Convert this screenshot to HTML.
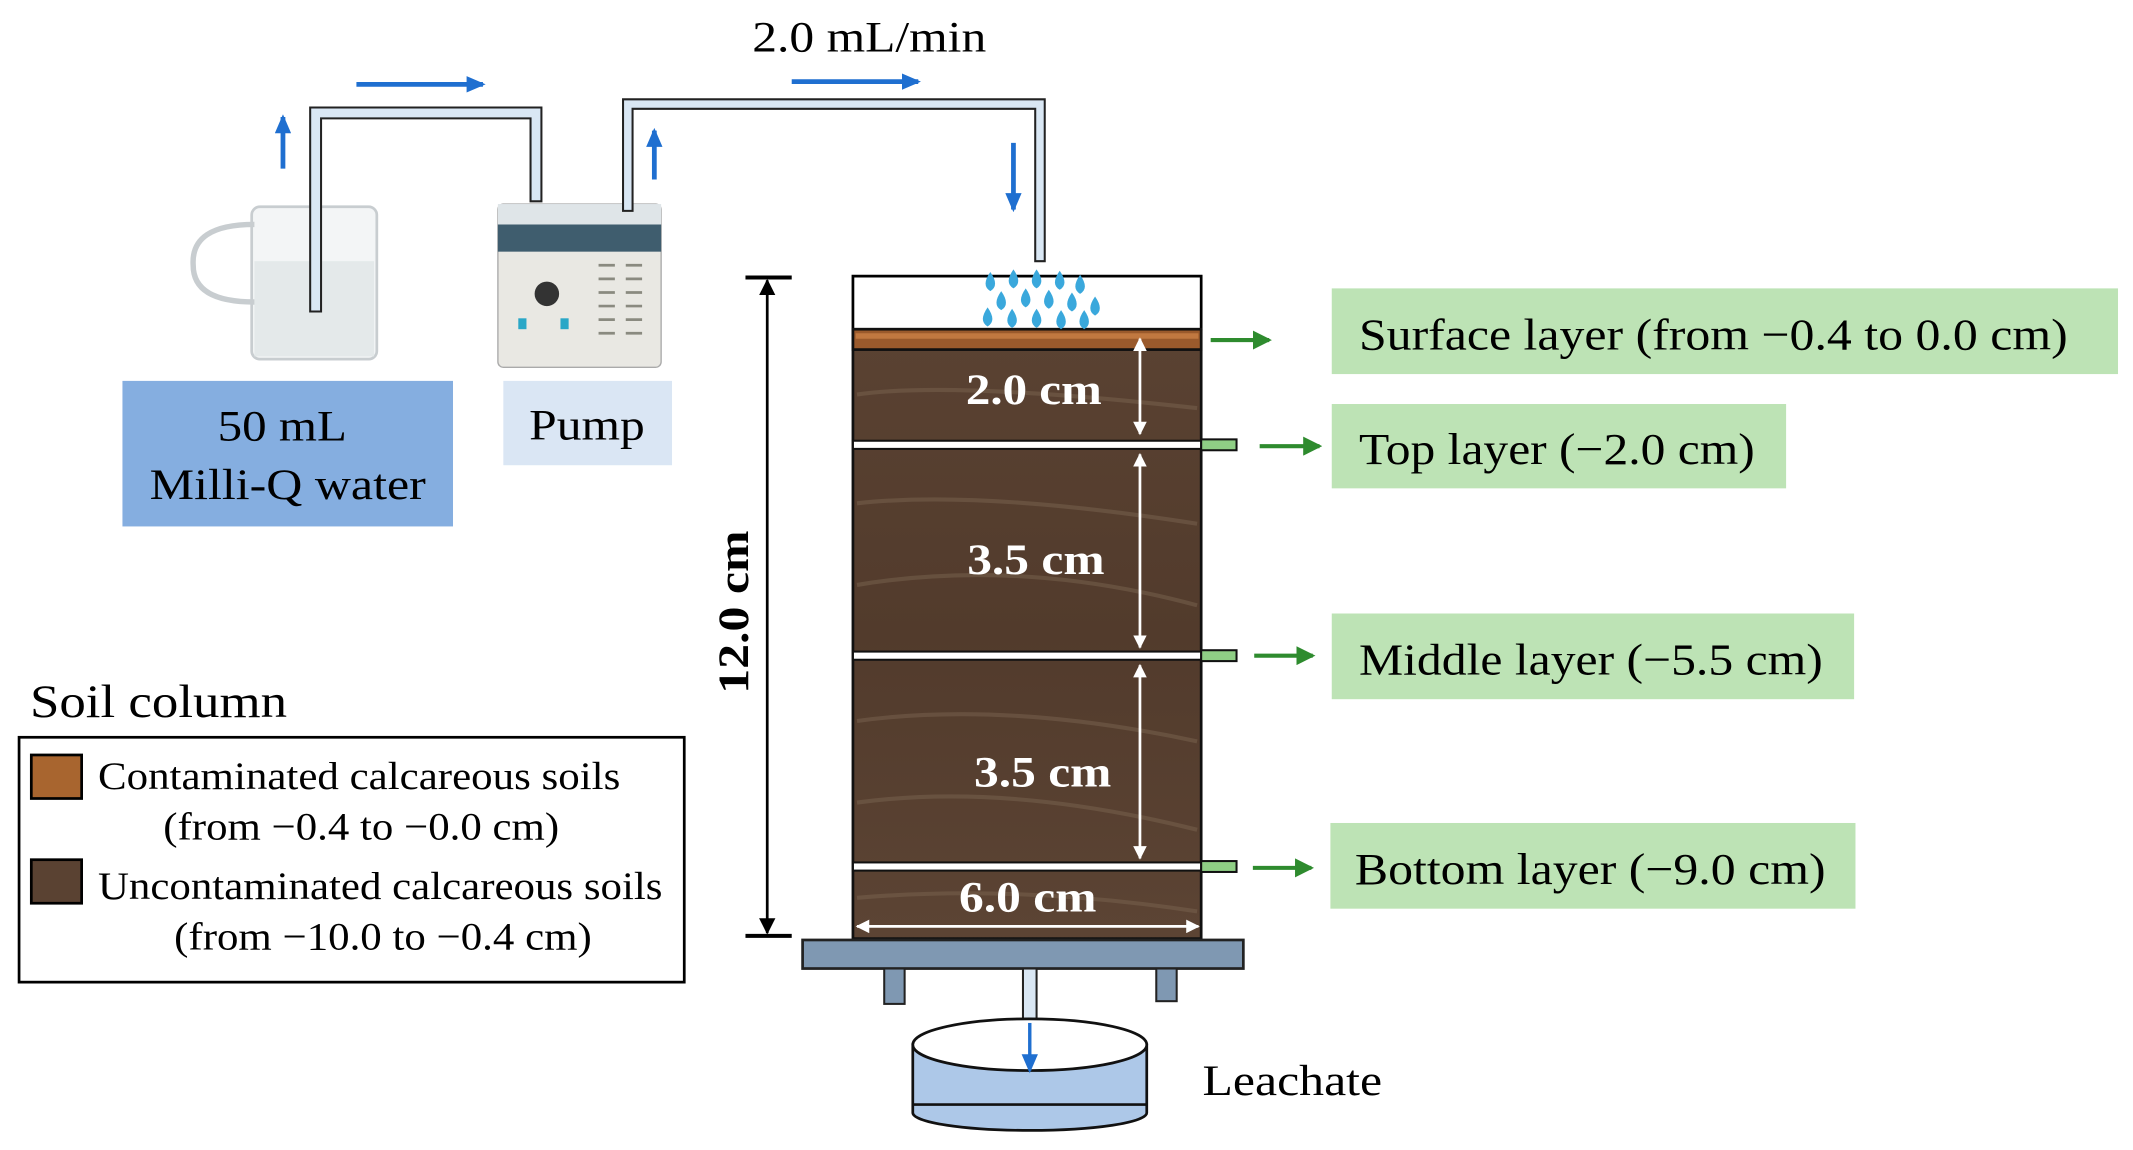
<!DOCTYPE html>
<html><head><meta charset="utf-8"><style>
html,body{margin:0;padding:0;background:#fff;}
svg{display:block;}
text{font-family:"Liberation Serif",serif;}
</style></head><body>
<svg width="2133" height="1150" viewBox="0 0 1568 845.4" xmlns="http://www.w3.org/2000/svg">
<defs>
<marker id="ab" markerWidth="14" markerHeight="12" refX="12" refY="6" orient="auto" markerUnits="userSpaceOnUse"><path d="M0,0 L14,6 L0,12 z" fill="#1f6fd0"/></marker>
<marker id="ag" markerWidth="14" markerHeight="14" refX="12" refY="7" orient="auto" markerUnits="userSpaceOnUse"><path d="M0,0 L14,7 L0,14 z" fill="#2e8b2e"/></marker>
<marker id="aw" markerWidth="10" markerHeight="10" refX="9" refY="5" orient="auto-start-reverse" markerUnits="userSpaceOnUse"><path d="M0,0 L10,5 L0,10 z" fill="#fff"/></marker>
<marker id="ak" markerWidth="12" markerHeight="12" refX="11" refY="6" orient="auto-start-reverse" markerUnits="userSpaceOnUse"><path d="M0,0 L12,6 L0,12 z" fill="#000"/></marker>
<linearGradient id="brown" x1="0" y1="0" x2="0" y2="1">
<stop offset="0" stop-color="#5a4232"/><stop offset="0.5" stop-color="#523b2c"/><stop offset="1" stop-color="#5c4434"/></linearGradient>
</defs>

<text x="553" y="38" font-size="32" textLength="172" lengthAdjust="spacingAndGlyphs">2.0 mL/min</text>

<g stroke="#1f6fd0" stroke-width="3.5" fill="none">
<line x1="262" y1="62" x2="355" y2="62" marker-end="url(#ab)"/>
<line x1="582" y1="60" x2="675" y2="60" marker-end="url(#ab)"/>
<line x1="208" y1="124" x2="208" y2="86" marker-end="url(#ab)"/>
<line x1="481" y1="132" x2="481" y2="96" marker-end="url(#ab)"/>
<line x1="745" y1="105" x2="745" y2="154" marker-end="url(#ab)"/>
</g>

<g>
<rect x="185" y="152" width="92" height="112" rx="6" fill="#f3f5f6" stroke="#c8cdd0" stroke-width="2"/>
<rect x="187" y="192" width="88" height="70" fill="#e4e9ea"/>
<path d="M187,165 Q140,165 142,195 Q142,222 187,222" fill="none" stroke="#c8cdd0" stroke-width="4"/>
</g>
<g>
<rect x="366" y="150" width="120" height="120" rx="4" fill="#e9e8e3" stroke="#aaa" stroke-width="1"/>
<rect x="366" y="165" width="120" height="20" fill="#3f5d6e"/>
<rect x="366" y="150" width="120" height="15" fill="#dfe5e8"/>
<circle cx="402" cy="216" r="9" fill="#333"/>
<rect x="381" y="234" width="6" height="8" fill="#2aa7c7"/><rect x="412" y="234" width="6" height="8" fill="#2aa7c7"/>
<g stroke="#8a8a80" stroke-width="2">
<line x1="440" y1="195" x2="452" y2="195"/><line x1="440" y1="205" x2="452" y2="205"/><line x1="440" y1="215" x2="452" y2="215"/><line x1="440" y1="225" x2="452" y2="225"/><line x1="440" y1="235" x2="452" y2="235"/><line x1="440" y1="245" x2="452" y2="245"/>
<line x1="460" y1="195" x2="472" y2="195"/><line x1="460" y1="205" x2="472" y2="205"/><line x1="460" y1="215" x2="472" y2="215"/><line x1="460" y1="225" x2="472" y2="225"/><line x1="460" y1="235" x2="472" y2="235"/><line x1="460" y1="245" x2="472" y2="245"/>
</g>
</g>

<g fill="#d9e7f4" stroke="#222" stroke-width="1.5">
<path d="M228,229 L228,79 L398,79 L398,148 L390,148 L390,87 L236,87 L236,229 Z"/>
<path d="M458,155 L458,73 L768,73 L768,192 L761,192 L761,80 L465,80 L465,155 Z"/>
</g>

<rect x="90" y="280" width="243" height="107" fill="#85aee0"/>
<text x="160" y="324" font-size="32" textLength="95" lengthAdjust="spacingAndGlyphs">50 mL</text>
<text x="110" y="367" font-size="32" textLength="203" lengthAdjust="spacingAndGlyphs">Milli-Q water</text>
<rect x="370" y="280" width="124" height="62" fill="#dae6f4"/>
<text x="389" y="323" font-size="32" textLength="85" lengthAdjust="spacingAndGlyphs">Pump</text>

<path d="M627,243 L627,203 L883,203 L883,243" fill="none" stroke="#000" stroke-width="2"/>
<rect x="627" y="243" width="256" height="447" fill="url(#brown)" stroke="#111" stroke-width="2"/>
<g stroke="#7a6450" stroke-width="3" fill="none" opacity="0.5">
<path d="M630,290 Q700,280 880,300"/><path d="M630,370 Q720,360 880,385"/><path d="M630,430 Q750,410 880,445"/>
<path d="M630,530 Q740,515 880,545"/><path d="M630,590 Q740,575 880,610"/><path d="M630,660 Q750,650 880,670"/>
</g>
<rect x="627" y="242" width="256" height="15" fill="#9a5a2c" stroke="#111" stroke-width="2"/>
<rect x="629" y="245" width="252" height="4" fill="#c07840"/>
<g fill="#fff" stroke="#111" stroke-width="1.5">
<rect x="627" y="324" width="256" height="6"/>
<rect x="627" y="479" width="256" height="6"/>
<rect x="627" y="634" width="256" height="6"/>
</g>
<g fill="#8fcf85" stroke="#111" stroke-width="1.5">
<rect x="883" y="323" width="26" height="8"/>
<rect x="883" y="478" width="26" height="8"/>
<rect x="883" y="633" width="26" height="8"/>
</g>
<g fill="#3aa8dc">
<path d="M728,200 q-7,10 0,14 q7,-4 0,-14z"/><path d="M745,198 q-7,10 0,14 q7,-4 0,-14z"/><path d="M762,198 q-7,10 0,14 q7,-4 0,-14z"/><path d="M779,199 q-7,10 0,14 q7,-4 0,-14z"/><path d="M794,202 q-7,10 0,14 q7,-4 0,-14z"/>
<path d="M736,214 q-7,10 0,14 q7,-4 0,-14z"/><path d="M754,212 q-7,10 0,14 q7,-4 0,-14z"/><path d="M771,213 q-7,10 0,14 q7,-4 0,-14z"/><path d="M788,215 q-7,10 0,14 q7,-4 0,-14z"/><path d="M805,218 q-7,10 0,14 q7,-4 0,-14z"/>
<path d="M726,226 q-7,10 0,14 q7,-4 0,-14z"/><path d="M744,227 q-7,10 0,14 q7,-4 0,-14z"/><path d="M762,227 q-7,10 0,14 q7,-4 0,-14z"/><path d="M780,228 q-7,10 0,14 q7,-4 0,-14z"/><path d="M797,228 q-7,10 0,14 q7,-4 0,-14z"/>
</g>
<g stroke="#fff" stroke-width="2">
<line x1="838" y1="249" x2="838" y2="319" marker-start="url(#aw)" marker-end="url(#aw)"/>
<line x1="838" y1="334" x2="838" y2="476" marker-start="url(#aw)" marker-end="url(#aw)"/>
<line x1="838" y1="489" x2="838" y2="631" marker-start="url(#aw)" marker-end="url(#aw)"/>
<line x1="630" y1="681" x2="881" y2="681" marker-start="url(#aw)" marker-end="url(#aw)"/>
</g>
<g fill="#fff" font-size="32" font-weight="bold">
<text x="710" y="297" textLength="100" lengthAdjust="spacingAndGlyphs">2.0 cm</text>
<text x="711" y="422" textLength="101" lengthAdjust="spacingAndGlyphs">3.5 cm</text>
<text x="716" y="578" textLength="101" lengthAdjust="spacingAndGlyphs">3.5 cm</text>
<text x="705" y="670" textLength="101" lengthAdjust="spacingAndGlyphs">6.0 cm</text>
</g>

<line x1="548" y1="204" x2="582" y2="204" stroke="#000" stroke-width="3"/>
<line x1="548" y1="688" x2="582" y2="688" stroke="#000" stroke-width="3"/>
<line x1="564" y1="206" x2="564" y2="686" stroke="#000" stroke-width="2" marker-start="url(#ak)" marker-end="url(#ak)"/>
<text x="-510" y="550" font-size="32" font-weight="bold" textLength="120" lengthAdjust="spacingAndGlyphs" transform="rotate(-90)">12.0 cm</text>

<rect x="590" y="691" width="324" height="21" fill="#7f98b2" stroke="#222" stroke-width="2"/>
<rect x="650" y="712" width="15" height="26" fill="#7f98b2" stroke="#222" stroke-width="1.5"/>
<rect x="850" y="712" width="15" height="24" fill="#7f98b2" stroke="#222" stroke-width="1.5"/>
<rect x="752" y="712" width="10" height="38" fill="#d9e7f4" stroke="#222" stroke-width="1.5"/>
<path d="M671,768 L671,818 A86,13 0 0 0 843,818 L843,768 Z" fill="#adc8e8" stroke="#111" stroke-width="2"/>
<line x1="671" y1="812" x2="843" y2="812" stroke="#111" stroke-width="2"/>
<ellipse cx="757" cy="768" rx="86" ry="19" fill="#fff" stroke="#111" stroke-width="2"/>
<line x1="757" y1="752" x2="757" y2="787" stroke="#1f6fd0" stroke-width="2.5" marker-end="url(#ab)"/>
<text x="884" y="805" font-size="32" textLength="132" lengthAdjust="spacingAndGlyphs">Leachate</text>

<g fill="#bde3b5">
<rect x="979" y="212" width="578" height="63"/>
<rect x="979" y="297" width="334" height="62"/>
<rect x="979" y="451" width="384" height="63"/>
<rect x="978" y="605" width="386" height="63"/>
</g>
<g font-size="33">
<text x="999" y="257" textLength="521" lengthAdjust="spacingAndGlyphs">Surface layer (from −0.4 to 0.0 cm)</text>
<text x="999" y="341" textLength="291" lengthAdjust="spacingAndGlyphs">Top layer (−2.0 cm)</text>
<text x="999" y="496" textLength="341" lengthAdjust="spacingAndGlyphs">Middle layer (−5.5 cm)</text>
<text x="996" y="650" textLength="346" lengthAdjust="spacingAndGlyphs">Bottom layer (−9.0 cm)</text>
</g>
<g stroke="#2e8b2e" stroke-width="3">
<line x1="890" y1="250" x2="933" y2="250" marker-end="url(#ag)"/>
<line x1="926" y1="328" x2="970" y2="328" marker-end="url(#ag)"/>
<line x1="922" y1="482" x2="965" y2="482" marker-end="url(#ag)"/>
<line x1="921" y1="638" x2="964" y2="638" marker-end="url(#ag)"/>
</g>

<text x="22" y="527" font-size="34" textLength="189" lengthAdjust="spacingAndGlyphs">Soil column</text>
<rect x="14" y="542" width="489" height="180" fill="none" stroke="#000" stroke-width="2"/>
<rect x="23" y="555" width="37" height="32" fill="#a8652f" stroke="#000" stroke-width="2"/>
<rect x="23" y="632" width="37" height="32" fill="#5a4232" stroke="#000" stroke-width="2"/>
<g font-size="29">
<text x="72" y="580" textLength="384" lengthAdjust="spacingAndGlyphs">Contaminated calcareous soils</text>
<text x="120" y="617" textLength="291" lengthAdjust="spacingAndGlyphs">(from −0.4 to −0.0 cm)</text>
<text x="72" y="661" textLength="415" lengthAdjust="spacingAndGlyphs">Uncontaminated calcareous soils</text>
<text x="128" y="698" textLength="307" lengthAdjust="spacingAndGlyphs">(from −10.0 to −0.4 cm)</text>
</g>
</svg>
</body></html>
